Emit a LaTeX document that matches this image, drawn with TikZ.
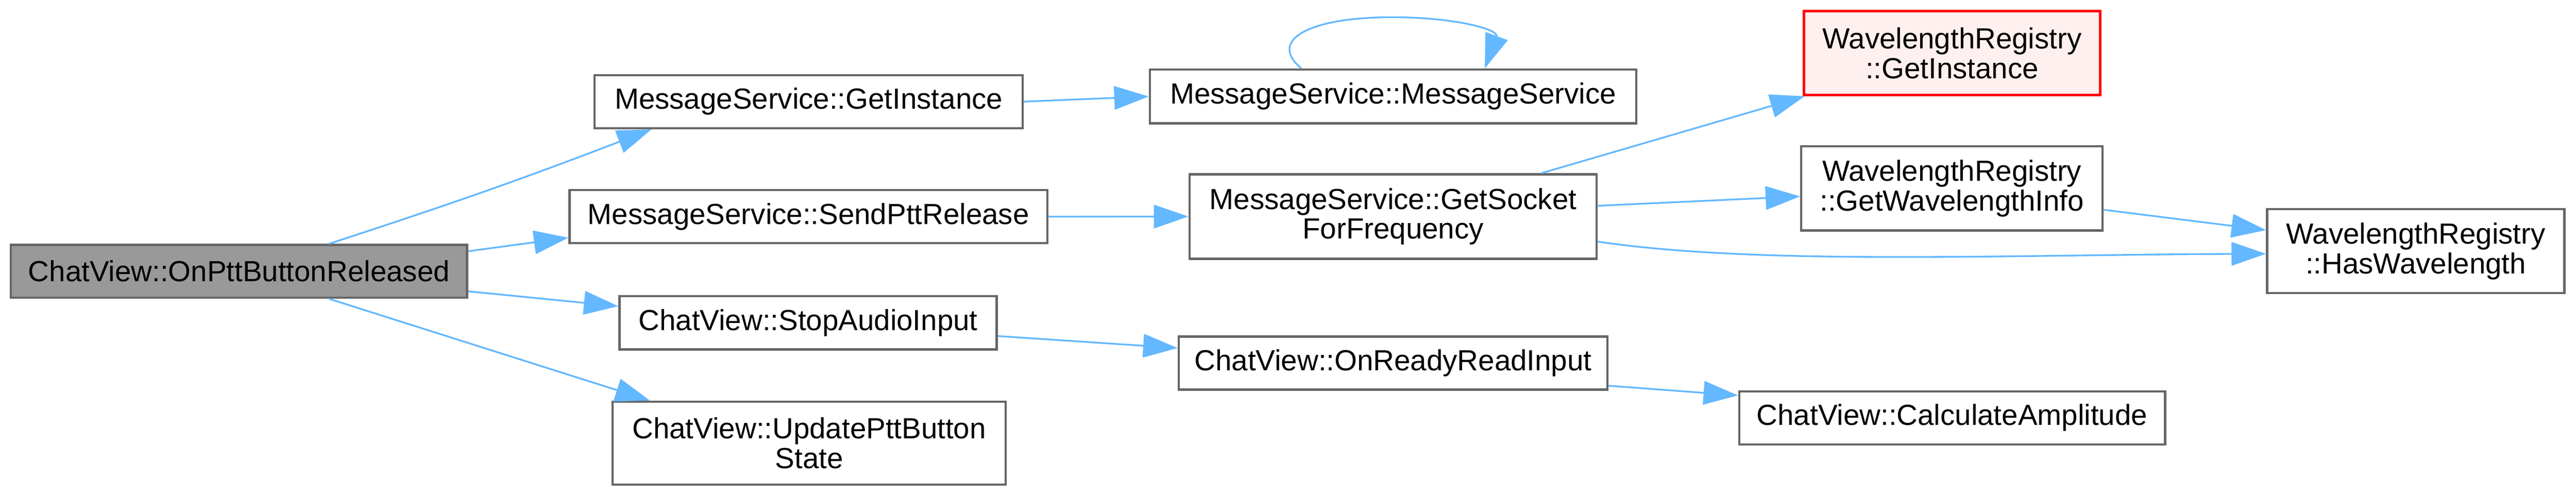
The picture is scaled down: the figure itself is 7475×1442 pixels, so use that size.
\documentclass[tikz,border=0pt]{standalone}
\usepackage{fontspec}
\setmainfont{Liberation Sans}
\usetikzlibrary{arrows.meta}
\definecolor{edgeblue}{HTML}{63B8FF}
\definecolor{nodegray}{HTML}{666666}
\definecolor{rootfill}{HTML}{999999}
\definecolor{redfill}{HTML}{FFF0F0}
\begin{document}
\begin{tikzpicture}[x=0.01cm,y=-0.01cm,
  nbox/.style={draw=nodegray, line width=0.066cm, fill=white, inner sep=0pt,
    align=center, font=\fontsize{24}{24.5}\selectfont},
  onebox/.style 2 args={nbox, minimum width=#1, minimum height=#2},
  edge/.style={draw=edgeblue, line width=0.05cm,
    -{Triangle[length=1cm,width=0.68cm,fill=edgeblue]}}]
\useasboundingbox (0,0) rectangle (7475,1442);
% nodes
\node[onebox={13.23cm}{1.53cm}, fill=rootfill] (root) at (693.5,787.5) {ChatView::OnPttButtonReleased};
\node[onebox={12.41cm}{1.54cm}] (gi) at (2346.5,295) {MessageService::GetInstance};
\node[onebox={13.86cm}{1.54cm}] (spr) at (2346,629) {MessageService::SendPttRelease};
\node[onebox={10.94cm}{1.54cm}] (sai) at (2345,937) {ChatView::StopAudioInput};
\node[onebox={11.40cm}{2.41cm}] (upb) at (2348,1286.5) {ChatView::UpdatePttButton\\State};
\node[onebox={14.11cm}{1.56cm}] (msms) at (4042.5,280) {MessageService::MessageService};
\node[onebox={11.81cm}{2.45cm}] (gsf) at (4042.5,628.5) {MessageService::GetSocket\\ForFrequency};
\node[onebox={12.43cm}{1.54cm}] (orr) at (4042.5,1054) {ChatView::OnReadyReadInput};
\node[onebox={8.59cm}{2.44cm}, draw=red, fill=redfill] (wrgi) at (5664.5,154) {WavelengthRegistry\\::GetInstance};
\node[onebox={8.74cm}{2.44cm}] (wrgwi) at (5664,547) {WavelengthRegistry\\::GetWavelengthInfo};
\node[onebox={12.35cm}{1.54cm}] (cca) at (5664.5,1213) {ChatView::CalculateAmplitude};
\node[onebox={8.62cm}{2.44cm}] (wrhw) at (7010,729) {WavelengthRegistry\\::HasWavelength};
% edges
\draw[edge] (root.17) to[bend right=1.5] (gi.190);
\draw[edge] (root.5) -- (spr.185);
\draw[edge] (root.-5) -- (sai.175);
\draw[edge] (root.-17) -- (upb.165);
\draw[edge] (gi.east) -- (msms.west);
\draw[edge] (msms.163) .. controls (3680,120) and (3790,50) .. (4040,50)
  .. controls (4220,50) and (4350,85) .. (msms.17);
\draw[edge] (spr.east) -- (gsf.west);
\draw[edge] (gsf) -- (wrgi);
\draw[edge] (gsf.3) -- (wrgwi.183);
\draw[edge] (gsf.-7) .. controls (5100,770) and (5800,740) .. (wrhw.181);
\draw[edge] (wrgwi.-8) -- (wrhw.172);
\draw[edge] (sai.-4) -- (orr.176);
\draw[edge] (orr.-6) -- (cca.174);
\end{tikzpicture}
\end{document}
